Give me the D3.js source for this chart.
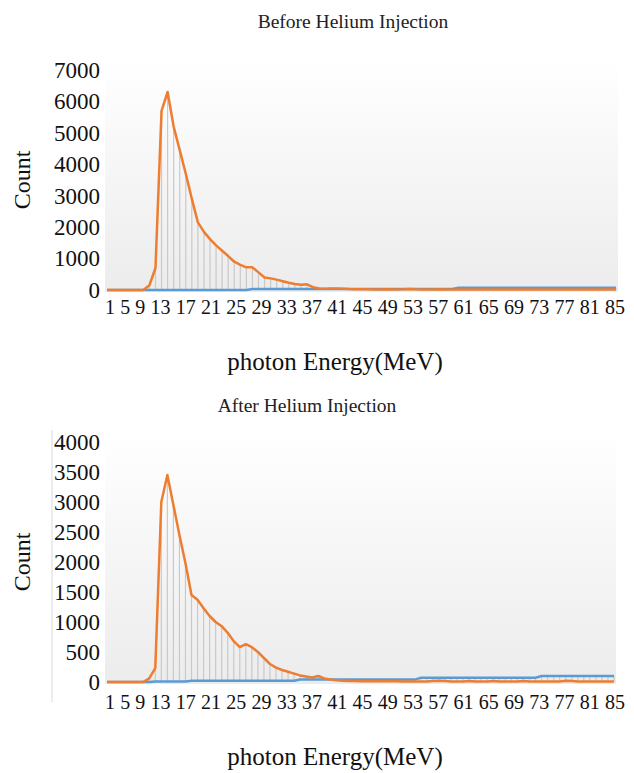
<!DOCTYPE html>
<html>
<head>
<meta charset="utf-8">
<script src="https://cdn.jsdelivr.net/npm/d3@7"></script>
<style>
  html, body { margin: 0; padding: 0; background: #fff; }
  svg { display: block; font-family: "Liberation Serif", "Times New Roman", serif; }
</style>
</head>
<body>
<svg id="chart" width="634" height="773"></svg>
<script>
// ---------- DATA ----------
const categories = d3.range(1, 86); // photon energy bins 1..85
const xTickLabels = ["1","5","9","13","17","21","25","29","33","37","41","45","49","53","57","61","65","69","73","77","81","85"];

const beforeTitle = "Before Helium Injection";
const afterTitle = "After Helium Injection";
const xAxisTitle = "photon Energy(MeV)";
const yAxisTitle = "Count";

const beforeYTicks = [0, 1000, 2000, 3000, 4000, 5000, 6000, 7000];
const afterYTicks = [0, 500, 1000, 1500, 2000, 2500, 3000, 3500, 4000];

// Before injection (orange series)
const beforeOrange = [
  0, 0, 0, 0, 0, 0, 0, 150, 700, 5700,
  6300, 5200, 4450, 3700, 2900, 2150, 1850, 1620, 1420, 1250,
  1080, 900, 800, 720, 720, 560, 400, 370, 330, 280,
  230, 190, 165, 180, 90, 50, 40, 50, 45, 40,
  30, 25, 20, 20, 15, 15, 20, 15, 15, 20,
  35, 20, 15, 15, 15, 20, 15, 15, 15, 15,
  15, 15, 15, 15, 15, 15, 15, 15, 15, 15,
  15, 15, 15, 15, 15, 15, 15, 15, 15, 15,
  15, 15, 15, 15, 15
];
// Before injection (blue series)
const beforeBlue = [
  0, 0, 0, 0, 0, 0, 0, 0, 0, 0,
  0, 0, 0, 0, 0, 0, 0, 0, 0, 0,
  0, 0, 0, 0, 30, 30, 30, 30, 30, 30,
  30, 30, 30, 30, 30, 30, 30, 30, 30, 30,
  30, 30, 30, 30, 30, 30, 30, 30, 30, 30,
  30, 30, 30, 30, 30, 30, 30, 30, 70, 70,
  70, 70, 70, 70, 70, 70, 70, 70, 70, 70,
  70, 70, 70, 70, 70, 70, 70, 70, 70, 70,
  70, 70, 70, 70, 70
];

// After injection (orange series)
const afterOrange = [
  0, 0, 0, 0, 0, 0, 0, 60, 230, 3000,
  3450, 2950, 2450, 1980, 1450, 1370, 1230, 1100, 1000, 930,
  820, 680, 580, 630, 580, 500, 400, 300, 240, 200,
  170, 140, 110, 90, 75, 100, 60, 40, 30, 20,
  15, 15, 12, 12, 12, 12, 12, 12, 12, 10,
  10, 10, 10, 10, 15, 20, 15, 10, 10, 10,
  15, 10, 10, 10, 15, 10, 10, 10, 10, 15,
  10, 10, 10, 10, 10, 10, 20, 15, 10, 10,
  10, 10, 10, 10, 10
];
// After injection (blue series)
const afterBlue = [
  0, 0, 0, 0, 0, 0, 0, 0, 10, 10,
  10, 10, 10, 10, 20, 20, 20, 20, 20, 20,
  20, 20, 20, 20, 20, 20, 20, 20, 20, 20,
  20, 20, 40, 40, 40, 40, 40, 40, 40, 40,
  40, 40, 40, 40, 40, 40, 40, 40, 40, 40,
  40, 40, 70, 70, 70, 70, 70, 70, 70, 70,
  70, 70, 70, 70, 70, 70, 70, 70, 70, 70,
  70, 70, 100, 100, 100, 100, 100, 100, 100, 100,
  100, 100, 100, 100, 100
];

// ---------- DRAWING ----------
const svg = d3.select("#chart");
const ORANGE = "#ED7D31", BLUE = "#5B9BD5";

const defs = svg.append("defs");
const grad = defs.append("linearGradient").attr("id", "bg").attr("x1", 0).attr("y1", 0).attr("x2", 0).attr("y2", 1);
grad.append("stop").attr("offset", "0%").attr("stop-color", "#ffffff");
grad.append("stop").attr("offset", "100%").attr("stop-color", "#ececec");

function drawPanel(cfg) {
  const g = svg.append("g");
  const x = d3.scalePoint().domain(categories).range([cfg.left + 2, cfg.right - 2]);
  const y = d3.scaleLinear().domain([0, cfg.yMax]).range([cfg.y0, cfg.yTop]);

  // plot background
  g.append("rect")
    .attr("x", cfg.left).attr("y", cfg.bgTop)
    .attr("width", cfg.right - cfg.left).attr("height", cfg.y0 - cfg.bgTop + 2)
    .attr("fill", "url(#bg)");

  if (cfg.leftLine) {
    g.append("line").attr("x1", cfg.leftLine).attr("x2", cfg.leftLine)
      .attr("y1", cfg.yTop - 12).attr("y2", cfg.y0 + 20)
      .attr("stroke", "#d9d9d9").attr("stroke-width", 1);
  }

  // title
  g.append("text").attr("x", cfg.titleX).attr("y", cfg.titleY)
    .attr("text-anchor", "middle").attr("font-size", 19.5).attr("fill", "#222")
    .text(cfg.title);

  // y axis labels
  const yAxis = d3.axisLeft(y).tickValues(cfg.yTicks).tickSize(0).tickPadding(0).tickFormat(d3.format("d"));
  const ya = g.append("g").attr("transform", `translate(${cfg.left - 5},0)`).call(yAxis);
  ya.select(".domain").remove();
  ya.selectAll("text").attr("font-size", 23).attr("fill", "#111")
    .attr("font-family", "Liberation Serif, serif");

  // grey drop lines
  g.append("g").selectAll("line").data(categories).join("line")
    .attr("x1", d => x(d)).attr("x2", d => x(d))
    .attr("y1", (d, i) => y(cfg.blue[i]))
    .attr("y2", (d, i) => y(cfg.orange[i]))
    .attr("stroke", "#c9c9c9").attr("stroke-width", 1.2);

  const line = vals => d3.line().x((d, i) => x(categories[i])).y(d => y(d))(vals);
  g.append("path").attr("d", line(cfg.blue)).attr("fill", "none")
    .attr("stroke", BLUE).attr("stroke-width", 2.5);
  g.append("path").attr("d", line(cfg.orange)).attr("fill", "none")
    .attr("stroke", ORANGE).attr("stroke-width", 2.5).attr("stroke-linejoin", "round");

  // x tick labels (packed text row, as in the reference)
  g.append("text").attr("x", cfg.left).attr("y", cfg.xLabelY)
    .attr("font-size", 20).attr("fill", "#111")
    .attr("textLength", cfg.xLabelLen).attr("lengthAdjust", "spacing")
    .text(xTickLabels.join(" "));

  // axis titles
  g.append("text").attr("x", 335).attr("y", cfg.xTitleY)
    .attr("text-anchor", "middle").attr("font-size", 25).attr("fill", "#111")
    .text(xAxisTitle);
  g.append("text")
    .attr("transform", `translate(30,${cfg.yTitleY}) rotate(-90)`)
    .attr("text-anchor", "middle").attr("font-size", 24).attr("fill", "#111")
    .text(yAxisTitle);
}

drawPanel({
  title: beforeTitle, titleX: 353, titleY: 28,
  left: 105, right: 618, y0: 290, yTop: 70, yMax: 7000, bgTop: 60,
  yTicks: beforeYTicks, orange: beforeOrange, blue: beforeBlue,
  xLabelY: 314, xLabelLen: 520, xTitleY: 370, yTitleY: 180
});

drawPanel({
  title: afterTitle, titleX: 307, titleY: 412,
  left: 105, right: 616, y0: 682, yTop: 442, yMax: 4000, bgTop: 432,
  yTicks: afterYTicks, orange: afterOrange, blue: afterBlue, leftLine: 52,
  xLabelY: 709, xLabelLen: 520, xTitleY: 765, yTitleY: 562
});
</script>
</body>
</html>
